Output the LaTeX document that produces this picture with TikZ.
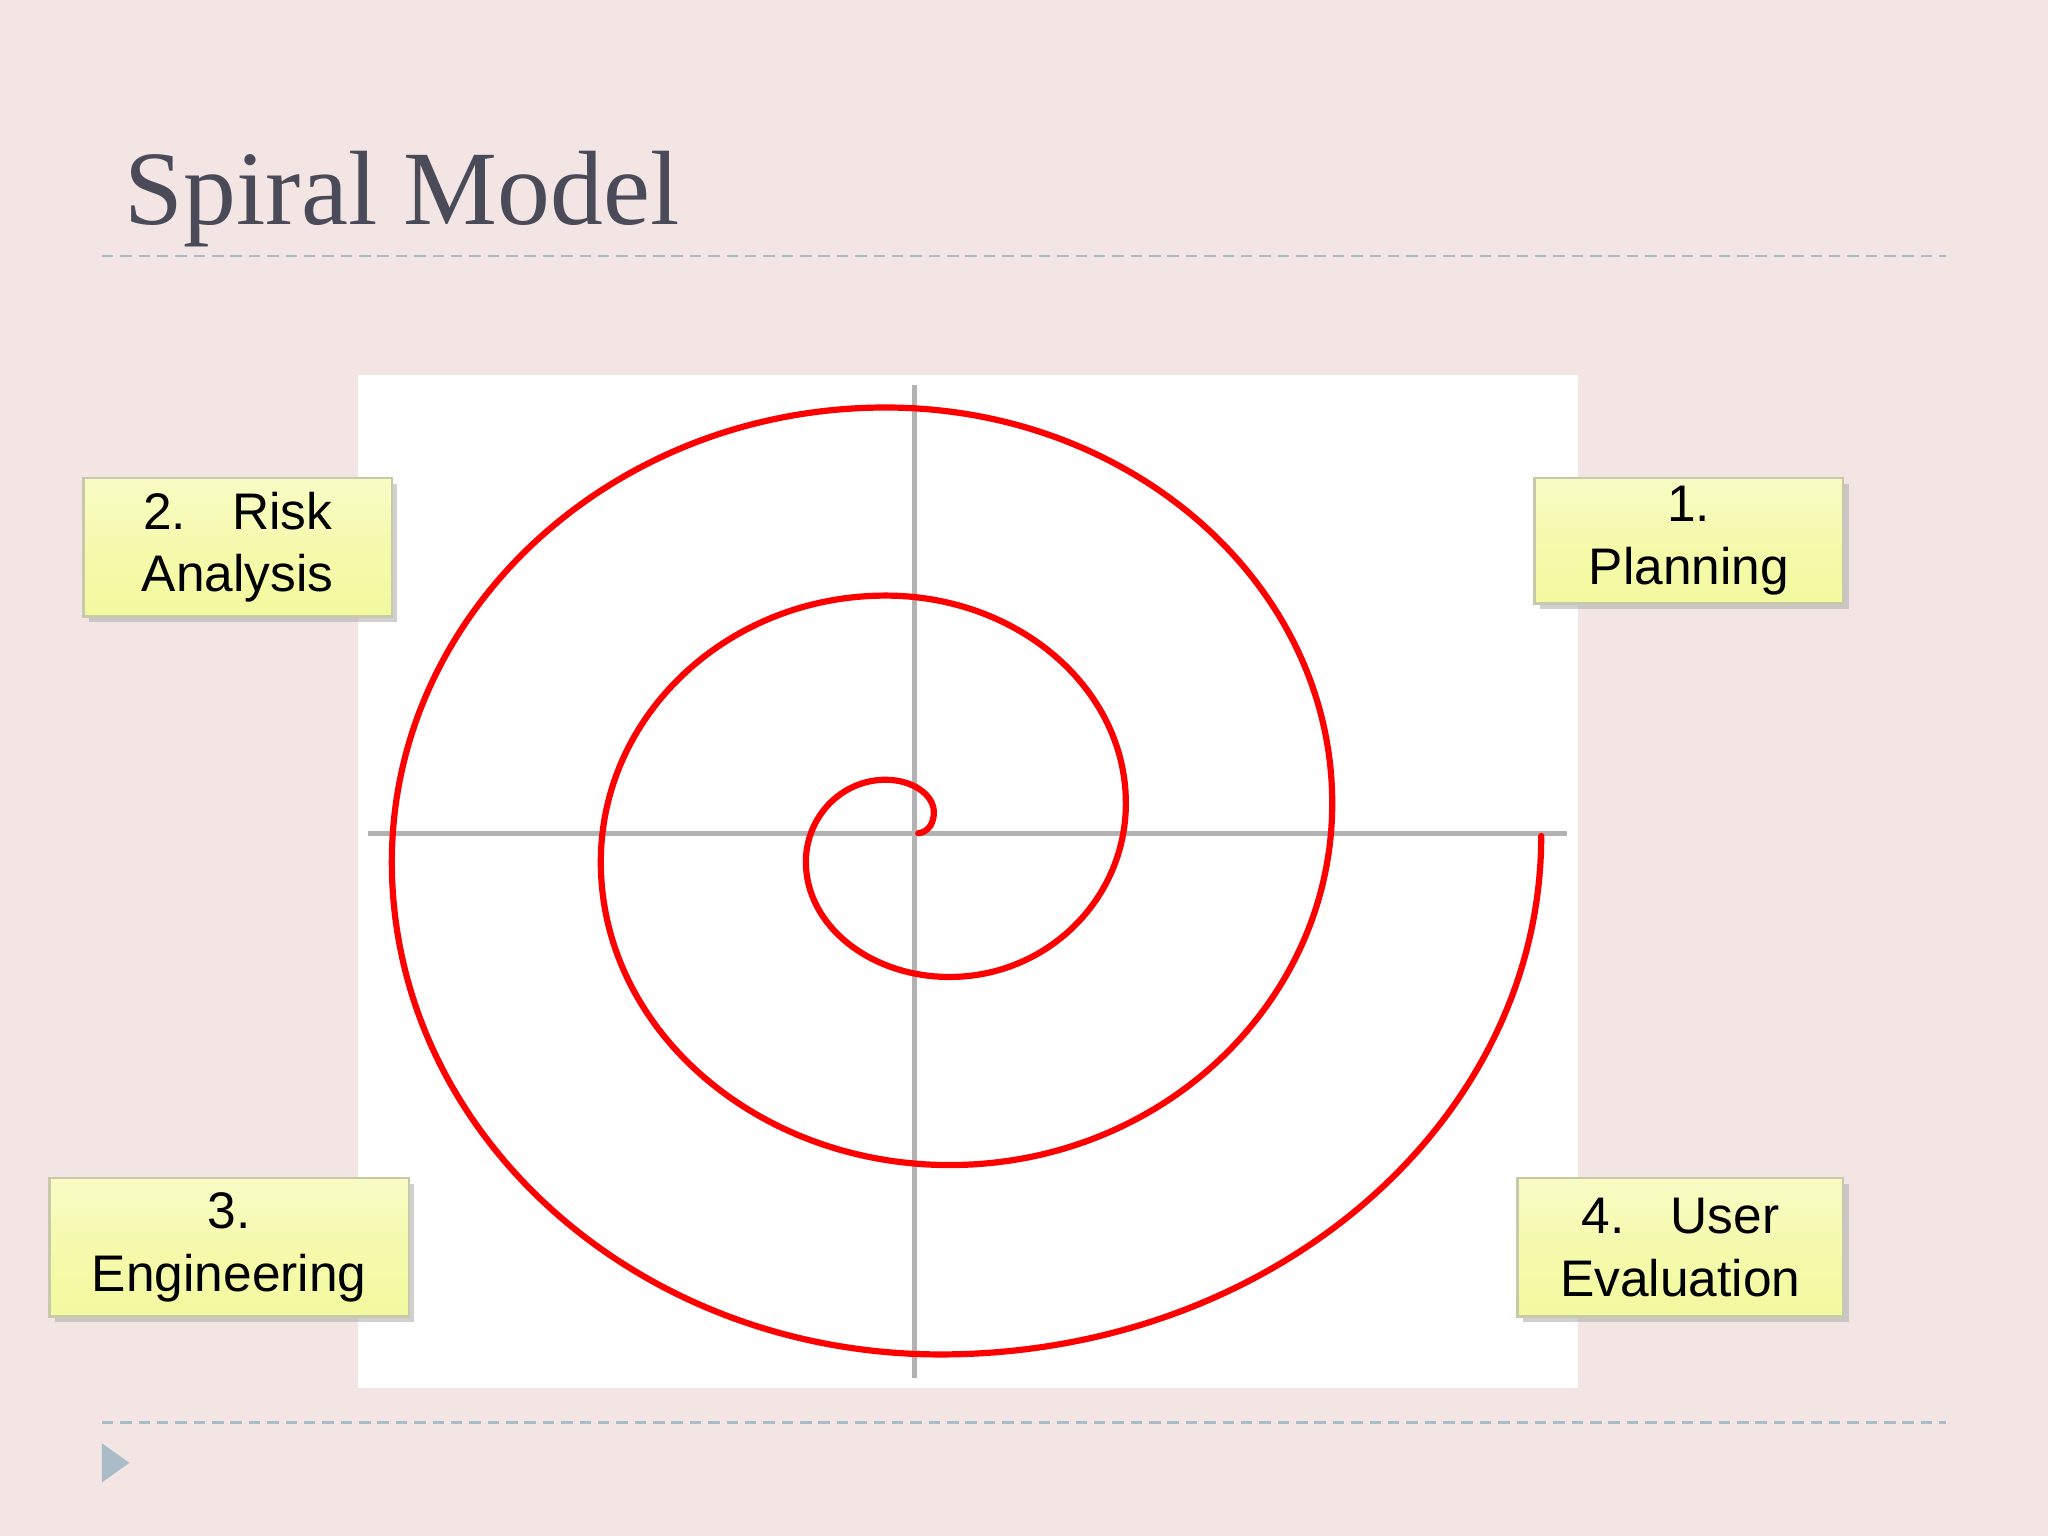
\documentclass[tikz,border=0pt]{standalone}
\usepackage{fontspec}
\setmainfont{Liberation Serif}
\newfontfamily\boxfont{Liberation Sans}
\usetikzlibrary{shadows}
\definecolor{bgc}{HTML}{F2E5E4}
\definecolor{titc}{HTML}{4A4A58}
\definecolor{dashc}{HTML}{A9BCC8}
\definecolor{boxc}{HTML}{F3F99E}
\tikzset{
  lbl/.style={draw={rgb,255:red,200;green,200;blue,170}, line width=0.6pt, top color=boxc!60!white, bottom color=boxc, middle color=boxc!85!white,
    drop shadow={shadow xshift=1.2pt, shadow yshift=-1.2pt, fill=gray!60, opacity=0.6},
    align=center, font=\boxfont\fontsize{11.2pt}{13.6pt}\selectfont, inner sep=0pt},
  axis/.style={draw=gray!60, line width=1.2pt},
  dl/.style={draw=dashc, dash pattern=on 2.5pt off 1.5pt, line width=0.5pt}
}
\begin{document}
\begin{tikzpicture}[x=0.01cm,y=-0.01cm]
\fill[bgc] (0,0) rectangle (1568,1176);
\useasboundingbox (0,0) rectangle (1568,1176);
\node[anchor=base west, text=titc, font=\fontsize{23pt}{28pt}\selectfont, inner sep=0pt] (title) at (95,172) {Spiral Model};
\coordinate (d1a) at (78,196); \coordinate (d1b) at (1490,196);
\coordinate (d2a) at (78,1089); \coordinate (d2b) at (1490,1089);
\draw[dl] (d1a) -- (d1b);
\draw[dl] (d2a) -- (d2b);
\fill[dashc] (78,1105) -- (78,1135) -- (99,1120) -- cycle;
\fill[white] (274,287) rectangle (1208,1063);
\coordinate (va) at (700,295); \coordinate (vb) at (700,1055);
\coordinate (ha) at (282,638); \coordinate (hb) at (1200,638);
\draw[axis] (va) -- (vb);
\draw[axis] (ha) -- (hb);
\draw[red, line width=1.35pt, line cap=round] (703,638) .. controls (711,637) and (715,630) .. (715,622)
  arc[start angle=0,end angle=-90,x radius=37,y radius=25]
  arc[start angle=-90,end angle=-180,x radius=61,y radius=63]
  arc[start angle=-180,end angle=-270,x radius=110,y radius=88]
  arc[start angle=90,end angle=0,x radius=135,y radius=133]
  arc[start angle=0,end angle=-90,x radius=184,y radius=159]
  arc[start angle=-90,end angle=-180,x radius=218,y radius=204]
  arc[start angle=-180,end angle=-270,x radius=267,y radius=232]
  arc[start angle=90,end angle=0,x radius=293,y radius=277]
  arc[start angle=0,end angle=-90,x radius=342,y radius=303]
  arc[start angle=-90,end angle=-180,x radius=378,y radius=348]
  arc[start angle=-180,end angle=-270,x radius=420,y radius=377]
  arc[start angle=90,end angle=0,x radius=460,y radius=397];
\node[lbl, minimum width=2.36cm, minimum height=1.06cm] (b2) at (182,419) {2.\hspace{0.9em}Risk\\Analysis};
\node[lbl, minimum width=2.36cm, minimum height=0.96cm] (b1) at (1293,414) {1.\\Planning};
\node[lbl, minimum width=2.75cm, minimum height=1.06cm] (b3) at (175.5,955) {3.\\Engineering};
\node[lbl, minimum width=2.49cm, minimum height=1.06cm] (b4) at (1286.5,955) {4.\hspace{0.9em}User\\Evaluation};
\end{tikzpicture}
\end{document}
